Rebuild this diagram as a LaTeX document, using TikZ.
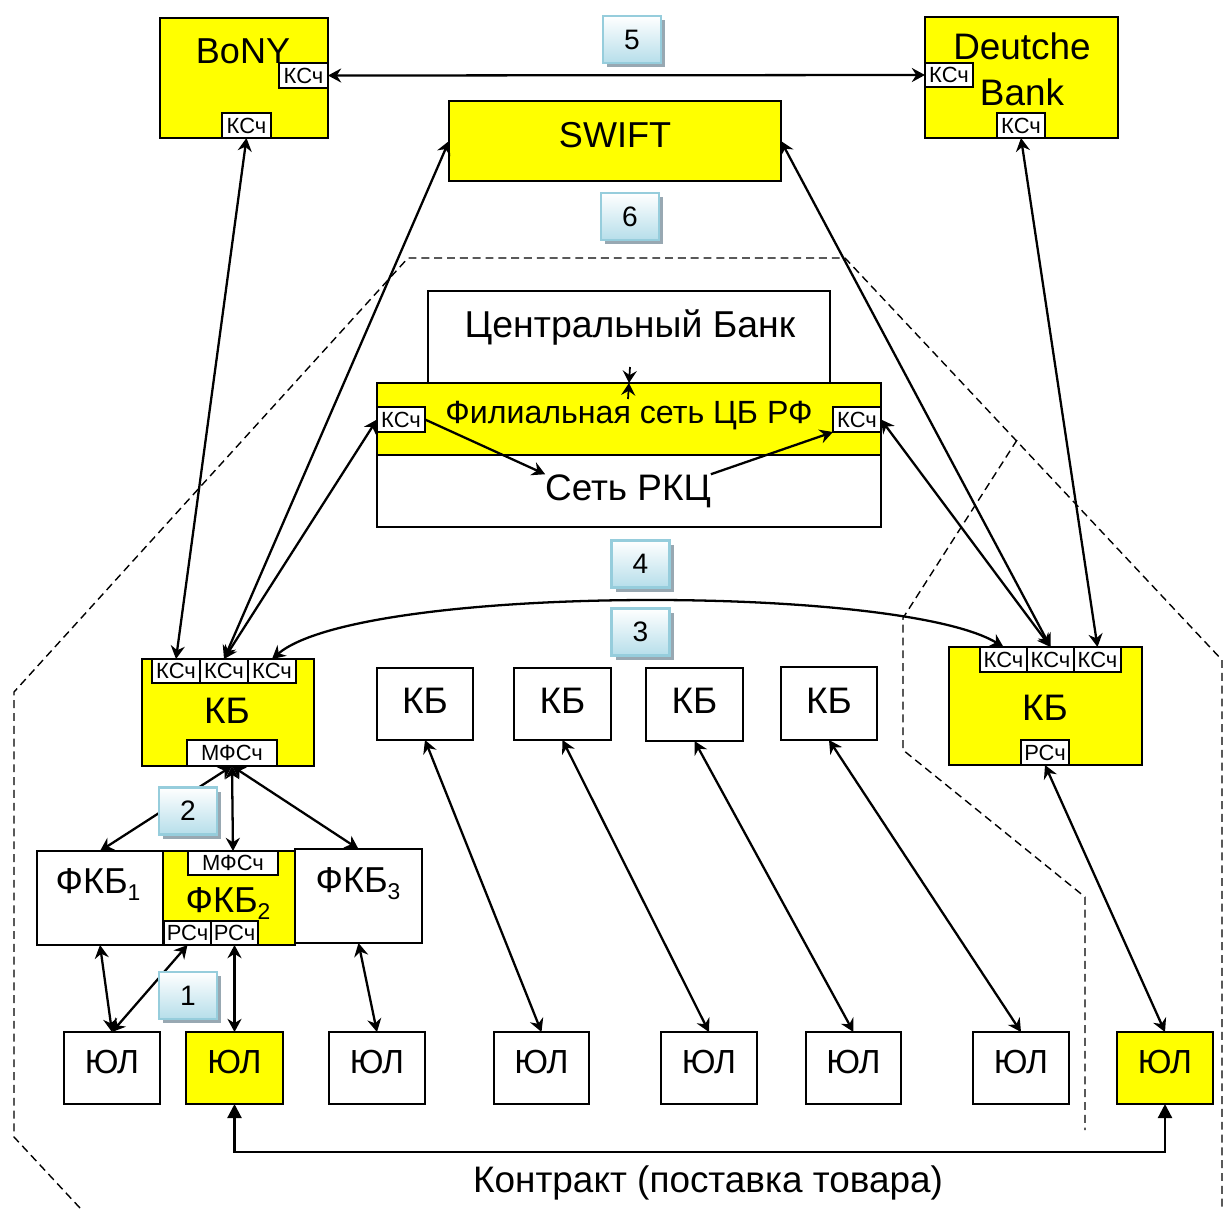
\documentclass[tikz,border=0pt]{standalone}
\usepackage{fontspec}
\setmainfont{Liberation Sans}
\usetikzlibrary{arrows.meta,shadows}
\definecolor{yel}{RGB}{255,255,0}
\definecolor{bdgline}{RGB}{150,205,220}
\definecolor{bdgbot}{RGB}{182,222,234}
\definecolor{bdgshadow}{RGB}{152,168,178}
\newcommand\fsz[2]{\fontsize{#1}{#2}\selectfont}
\newcommand\sbs[1]{\raisebox{-4.5pt}{\fontsize{13pt}{15pt}\selectfont #1}}
\tikzset{
  sz/.style 2 args={minimum width=#1*0.02cm, minimum height=#2*0.02cm},
  box/.style={draw, line width=1.1pt, inner sep=0pt, outer sep=0pt},
  ybox/.style={box, fill=yel},
  wbox/.style={box, fill=white},
  acc/.style={draw, fill=white, line width=0.9pt, inner sep=0pt, outer sep=0pt, font={\fsz{12.5pt}{14pt}}},
  lbl/.style={inner sep=0pt, outer sep=0pt, anchor=base},
  big/.style={lbl, font={\fsz{20.5pt}{24pt}}},
  mid/.style={lbl, font={\fsz{21pt}{25pt}}},
  fk/.style={lbl, font={\fsz{20.5pt}{24pt}}},
  yl/.style={lbl, font={\fsz{19pt}{23pt}}},
  link/.style={{Stealth[length=7.5pt,width=8pt,inset=2.5pt]}-{Stealth[length=7.5pt,width=8pt,inset=2.5pt]}, line width=1.3pt},
  onearr/.style={-{Stealth[length=7.5pt,width=8pt,inset=2.5pt]}, line width=1.3pt},
  contract/.style={{Triangle[length=8pt,width=8pt]}-{Triangle[length=8pt,width=8pt]}, line width=1.3pt},
  zone/.style={dash pattern=on 4.5pt off 2.8pt, line width=0.8pt},
  badge/.style={draw=bdgline, line width=1.2pt, top color=white, bottom color=bdgbot,
    minimum width=1.16cm, minimum height=0.94cm, inner sep=0pt, font={\fsz{16pt}{18pt}},
    drop shadow={shadow xshift=2.4pt, shadow yshift=-2.4pt, fill=bdgshadow, opacity=1}}
}
\begin{document}
\begin{tikzpicture}[x=0.02cm,y=-0.02cm]
\useasboundingbox (0,0) rectangle (1227,1208);

% dashed zones
\coordinate (z1) at (80,1208);
\coordinate (z2) at (14,1137);
\coordinate (z3) at (14,692);
\coordinate (z4) at (408,258);
\coordinate (z5) at (845,258);
\coordinate (z6) at (1222,660);
\coordinate (z7) at (1222,1210);
\draw[zone] (z1) -- (z2) -- (z3) -- (z4) -- (z5) -- (z6) -- (z7);
\coordinate (w1) at (1017,440);
\coordinate (w2) at (903,618);
\coordinate (w3) at (903,750);
\coordinate (w4) at (1085,897);
\coordinate (w5) at (1085,1130);
\draw[zone] (w1) -- (w2) -- (w3) -- (w4) -- (w5);

% top banks
\node[ybox, sz={168}{120}] (bony) at (244,78) {};
\node[big] (bonyT) at (243,63) {BoNY};
\node[acc, sz={49}{25}] (bonyR) at (303.5,75.5) {КСч};
\node[acc, sz={49}{25}] (bonyB) at (246.5,125.5) {КСч};

\node[ybox, sz={193}{121}] (db) at (1021.5,77.5) {};
\node[lbl, font={\fsz{21pt}{25pt}}] (dbT1) at (1022,59) {Deutche};
\node[lbl, font={\fsz{21pt}{25pt}}] (dbT2) at (1022,105) {Bank};
\node[acc, sz={48}{24}] (dbL) at (949,75) {КСч};
\node[acc, sz={48}{25}] (dbB) at (1021,125.5) {КСч};

\node[ybox, sz={332}{80}] (swift) at (615,141) {};
\node[big] (swiftT) at (615,147) {SWIFT};

% central bank block
\node[wbox, sz={402}{92}] (cb) at (629,337) {};
\node[lbl, font={\fsz{21.3pt}{25pt}}] (cbT) at (630,337) {Центральный Банк};
\node[ybox, sz={504}{72}] (fil) at (629,419) {};
\node[lbl, font={\fsz{18.3pt}{22pt}}] (filT) at (629,423) {Филиальная сеть ЦБ РФ};
\node[wbox, sz={504}{72}] (rkc) at (629,491) {};
\node[lbl, font={\fsz{21pt}{25pt}}] (rkcT) at (628,500) {Сеть РКЦ};
\node[acc, sz={48}{25}] (filKL) at (401,419.5) {КСч};
\node[acc, sz={48}{25}] (filKR) at (857,419.5) {КСч};

% left KB
\node[ybox, sz={172}{107}] (kbL) at (228,712.5) {};
\node[mid] (kbLT) at (227,723) {КБ};
\node[acc, sz={48}{24}] (kbLk1) at (176,671) {КСч};
\node[acc, sz={48}{24}] (kbLk2) at (224,671) {КСч};
\node[acc, sz={48}{24}] (kbLk3) at (272,671) {КСч};
\node[acc, sz={90}{26}] (kbLmf) at (232,753) {МФСч};

% right KB
\node[ybox, sz={193}{118}] (kbR) at (1045.5,706) {};
\node[mid] (kbRT) at (1045,720) {КБ};
\node[acc, sz={47}{25}] (kbRk1) at (1003.5,659.5) {КСч};
\node[acc, sz={47}{25}] (kbRk2) at (1050.5,659.5) {КСч};
\node[acc, sz={47}{25}] (kbRk3) at (1097.5,659.5) {КСч};
\node[acc, sz={48}{25}] (kbRrs) at (1045,752.5) {РСч};

% middle KBs
\node[wbox, sz={96}{72}] (kb1) at (425,704) {};
\node[mid] (kb1T) at (425,713.5) {КБ};
\node[wbox, sz={97}{72}] (kb2) at (562.5,704) {};
\node[mid] (kb2T) at (562.5,713.5) {КБ};
\node[wbox, sz={97}{73}] (kb3) at (694.5,704.5) {};
\node[mid] (kb3T) at (694.5,713.5) {КБ};
\node[wbox, sz={96}{73}] (kb4) at (829,703.5) {};
\node[mid] (kb4T) at (829,713) {КБ};

% branches
\node[wbox, sz={126}{94}] (fkb1) at (100,898) {};
\node[fk] (fkb1T) at (98,893) {ФКБ\sbs{1}};
\node[wbox, sz={127}{94}] (fkb3) at (358.5,896) {};
\node[fk] (fkb3T) at (358,892) {ФКБ\sbs{3}};
\node[ybox, sz={132}{94}] (fkb2) at (229,898) {};
\node[fk] (fkb2T) at (228,912) {ФКБ\sbs{2}};
\node[acc, sz={90}{24}] (fkb2mf) at (233,863) {МФСч};
\node[acc, sz={47}{24}] (fkb2r1) at (187.5,933) {РСч};
\node[acc, sz={47}{24}] (fkb2r2) at (234.5,933) {РСч};

% legal entities
\node[wbox, sz={96}{72}] (yul1) at (112,1068) {};
\node[yl] (yul1T) at (112,1073) {ЮЛ};
\node[ybox, sz={97}{72}] (yul2) at (234.5,1068) {};
\node[yl] (yul2T) at (234.5,1073) {ЮЛ};
\node[wbox, sz={96}{72}] (yul3) at (377,1068) {};
\node[yl] (yul3T) at (377,1073) {ЮЛ};
\node[wbox, sz={95}{72}] (yul4) at (541.5,1068) {};
\node[yl] (yul4T) at (541.5,1073) {ЮЛ};
\node[wbox, sz={96}{72}] (yul5) at (709,1068) {};
\node[yl] (yul5T) at (709,1073) {ЮЛ};
\node[wbox, sz={95}{72}] (yul6) at (853.5,1068) {};
\node[yl] (yul6T) at (853.5,1073) {ЮЛ};
\node[wbox, sz={96}{72}] (yul7) at (1021,1068) {};
\node[yl] (yul7T) at (1021,1073) {ЮЛ};
\node[ybox, sz={96}{72}] (yul8) at (1165,1068) {};
\node[yl] (yul8T) at (1165,1073) {ЮЛ};

\node[lbl, font={\fsz{21pt}{25pt}}] (contrT) at (708,1192) {Контракт (поставка товара)};

% connectors
\draw[link] (bonyR.east) -- (dbL.west);
\draw[link] (bonyB.south) -- (kbLk1.north);
\draw[link] (swift.west) -- (kbLk2.north);
\draw[link] (filKL.west) -- (kbLk2.north);
\draw[link] (kbLk3.north) .. controls (360,584) and (900,584) .. (kbRk1.north);
\draw[link] (swift.east) -- (kbRk2.north);
\draw[link] (filKR.east) -- (kbRk2.north);
\draw[link] (dbB.south) -- (kbRk3.north);

\draw[onearr] (filKL.east) -- (rkcT.north west);
\draw[onearr] (rkcT.north east) -- (filKR.south west);
\coordinate (cfm) at (629,383);
\draw[-{Stealth[length=7pt,width=8pt,inset=2.5pt]}, line width=1pt] (630,367) -- (cfm);
\draw[-{Stealth[length=7pt,width=8pt,inset=2.5pt]}, line width=1pt] (628,399) -- (cfm);

\draw[link] (kbLmf.south) -- (fkb1.north);
\draw[link] (kbLmf.south) -- (fkb2mf.north);
\draw[link] (kbLmf.south) -- (fkb3.north);

\draw[link] (fkb1.south) -- (yul1.north);
\draw[link] (fkb2r1.south) -- (yul1.north);
\draw[link] (fkb2r2.south) -- (yul2.north);
\draw[link] (fkb3.south) -- (yul3.north);
\draw[link] (kb1.south) -- (yul4.north);
\draw[link] (kb2.south) -- (yul5.north);
\draw[link] (kb3.south) -- (yul6.north);
\draw[link] (kb4.south) -- (yul7.north);
\draw[link] (kbRrs.south) -- (yul8.north);

\coordinate (cbot) at (708,1152);
\draw[contract] (yul2.south) |- (cbot) -| (yul8.south);

% badges
\node[badge] (b5) at (632,39.5) {5};
\node[badge] (b6) at (630,216.5) {6};
\node[badge] (b4) at (640.5,564) {4};
\node[badge] (b3) at (640.5,632) {3};
\node[badge] (b2) at (188,811) {2};
\node[badge] (b1) at (188,995.5) {1};
\end{tikzpicture}
\end{document}
